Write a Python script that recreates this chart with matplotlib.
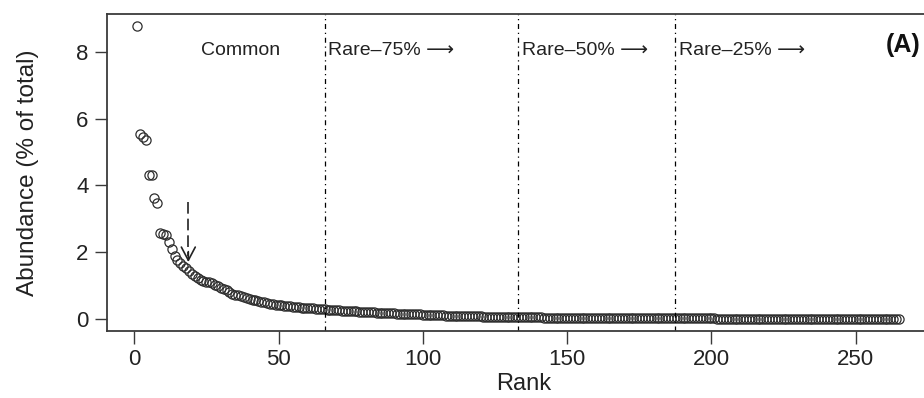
import numpy as np
import matplotlib.pyplot as plt

plt.rcParams['font.family'] = ['Liberation Sans', 'DejaVu Sans']

# abundance (% of total) by rank in blocks of ten ranks
abund_001_050 = [8.76, 5.55, 5.45, 5.35, 4.32, 4.30, 3.62, 3.48, 2.57, 2.55,
                 2.50, 2.30, 2.10, 1.90, 1.78, 1.68, 1.60, 1.52, 1.45, 1.36,
                 1.28, 1.22, 1.18, 1.15, 1.12, 1.10, 1.08, 1.02, 0.98, 0.94,
                 0.90, 0.86, 0.80, 0.76, 0.73, 0.71, 0.69, 0.67, 0.64, 0.61,
                 0.58, 0.56, 0.54, 0.52, 0.50, 0.48, 0.46, 0.45, 0.43, 0.42]
abund_051_100 = [0.41, 0.40, 0.39, 0.38, 0.37, 0.36, 0.35, 0.34, 0.335, 0.33,
                 0.32, 0.315, 0.31, 0.30, 0.295, 0.29, 0.28, 0.275, 0.27, 0.26,
                 0.255, 0.25, 0.245, 0.24, 0.235, 0.23, 0.225, 0.22, 0.215, 0.21,
                 0.205, 0.20, 0.195, 0.19, 0.185, 0.18, 0.175, 0.17, 0.168, 0.165,
                 0.16, 0.157, 0.154, 0.15, 0.147, 0.144, 0.14, 0.137, 0.134, 0.13]
abund_101_150 = [0.127, 0.124, 0.12, 0.117, 0.114, 0.11, 0.107, 0.104, 0.10, 0.098,
                 0.095, 0.092, 0.09, 0.088, 0.086, 0.084, 0.082, 0.08, 0.078, 0.076,
                 0.074, 0.072, 0.07, 0.068, 0.066, 0.064, 0.062, 0.06, 0.058, 0.056,
                 0.055, 0.054, 0.053, 0.052, 0.051, 0.05, 0.049, 0.048, 0.047, 0.046,
                 0.045, 0.044, 0.043, 0.042, 0.041, 0.04, 0.039, 0.038, 0.037, 0.036]
abund_151_200 = [0.036, 0.035, 0.035, 0.034, 0.034, 0.033, 0.033, 0.032, 0.032, 0.031,
                 0.031, 0.030, 0.030, 0.029, 0.029, 0.028, 0.028, 0.027, 0.027, 0.026,
                 0.026, 0.025, 0.025, 0.024, 0.024, 0.023, 0.023, 0.022, 0.022, 0.021,
                 0.021, 0.021, 0.020, 0.020, 0.020, 0.019, 0.019, 0.019, 0.018, 0.018,
                 0.018, 0.017, 0.017, 0.017, 0.016, 0.016, 0.016, 0.015, 0.015, 0.015]
abund_201_265 = [0.0145, 0.014, 0.014, 0.0135, 0.013, 0.013, 0.0125, 0.012, 0.012, 0.0115,
                 0.011, 0.011, 0.0105, 0.010, 0.010, 0.0095, 0.009, 0.009, 0.0088, 0.0085,
                 0.0082, 0.008, 0.0078, 0.0075, 0.0072, 0.007, 0.0068, 0.0065, 0.0062, 0.006,
                 0.0058, 0.0056, 0.0054, 0.0052, 0.005, 0.0048, 0.0046, 0.0044, 0.0042, 0.004,
                 0.0039, 0.0038, 0.0037, 0.0036, 0.0035, 0.0034, 0.0033, 0.0032, 0.0031, 0.003,
                 0.0029, 0.0028, 0.0027, 0.0026, 0.0025, 0.0024, 0.0023, 0.0022, 0.0021, 0.002,
                 0.0019, 0.0018, 0.0017, 0.0016, 0.0015]

abundance = np.array(abund_001_050 + abund_051_100 + abund_101_150
                     + abund_151_200 + abund_201_265)
rank = np.arange(1, len(abundance) + 1)

# class boundaries (rank) and labels
cutoffs = [66.0, 133.0, 187.4]
class_labels = ['Rare\u201375% \u27f6', 'Rare\u201350% \u27f6', 'Rare\u201325% \u27f6']

fig = plt.figure(figsize=(9.24, 3.98), dpi=100)
ax = fig.add_axes([106.5 / 924, 1 - 331 / 398, (940 - 106.5) / 924, (331 - 14) / 398])

dark = '#3a3a3a'
ax.plot(rank, abundance, 'o', ms=6.6, mfc='none', mec='#2e2e2e', mew=0.9)

for c in cutoffs:
    ax.axvline(c, color='black', lw=0.9, ls=(0, (4, 3, 1, 3)))

ax.text(36.7, 8.05, 'Common', fontsize=14, ha='center', va='center', color='#222222')
for c, lab in zip(cutoffs, class_labels):
    ax.text(c + 1.2, 8.05, lab, fontsize=14, ha='left', va='center', color='#222222')
ax.text(272.3, 8.2, '(A)', fontsize=18, fontweight='bold', ha='right', va='center',
        color='#111111')

# dashed arrow pointing at the break in the curve
ax.plot([18.75, 18.75], [3.51, 1.9], color='#222222', lw=1.2, ls=(0, (7, 3)))
ax.annotate('', xy=(18.75, 1.62), xytext=(18.75, 2.1),
            arrowprops=dict(arrowstyle='->,head_length=0.95,head_width=0.5',
                            color='#222222', lw=1.2))

ax.set_xlim(-9.6, 279.2)
ax.set_ylim(-0.36, 9.13)
ax.set_xticks([0, 50, 100, 150, 200, 250])
ax.set_yticks([0, 2, 4, 6, 8])

for side in ['left', 'bottom', 'top']:
    ax.spines[side].set_color(dark)
    ax.spines[side].set_linewidth(1.3)
ax.spines['right'].set_visible(False)

ax.tick_params(axis='both', length=9, width=1.0, color=dark, labelsize=16,
               labelcolor='#222222', pad=4)

ax.set_xlabel('Rank', fontsize=17, color='#222222', labelpad=2)
ax.set_ylabel('Abundance (% of total)', fontsize=17.5, color='#222222', labelpad=27)

fig.savefig('out.png', dpi=100)
